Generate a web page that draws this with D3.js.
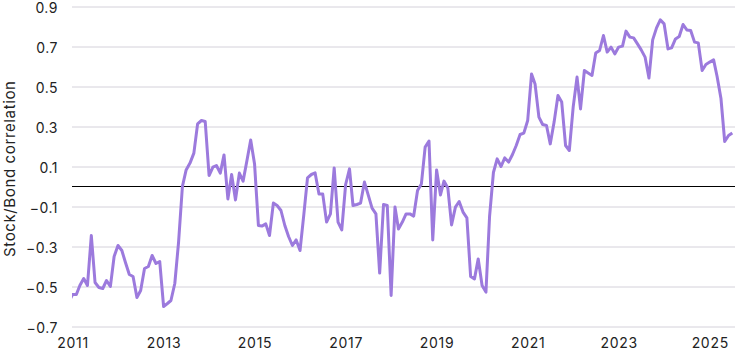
<!DOCTYPE html>
<html><head><meta charset="utf-8">
<script src="https://cdn.jsdelivr.net/npm/d3@7"></script>
<style>body{margin:0;background:#fff}svg{display:block}text{font-family:Inter,"Noto Sans",sans-serif;fill:#222}</style>
</head><body><div id="chart"></div>
<script>
const startMonth = "2010-12";
const values = [
-0.58,
-0.54,-0.54,-0.495,-0.46,-0.495,-0.245,-0.48,-0.505,-0.51,-0.47,-0.50,-0.35,
-0.295,-0.32,-0.38,-0.44,-0.45,-0.555,-0.52,-0.41,-0.40,-0.345,-0.385,-0.375,
-0.60,-0.585,-0.57,-0.485,-0.28,0.0,0.083,0.117,0.167,0.313,0.33,0.325,
0.055,0.097,0.105,0.067,0.158,-0.062,0.06,-0.067,0.067,0.027,0.13,0.233,
0.113,-0.195,-0.198,-0.187,-0.245,-0.083,-0.095,-0.12,-0.195,-0.25,-0.295,-0.267,
-0.32,-0.137,0.043,0.06,0.068,-0.037,-0.037,-0.178,-0.137,0.093,-0.178,-0.217,
0.01,0.088,-0.095,-0.09,-0.083,0.022,-0.042,-0.108,-0.137,-0.433,-0.09,-0.095,
-0.545,-0.103,-0.212,-0.178,-0.137,-0.137,-0.148,-0.02,0.013,0.197,0.227,-0.267,
0.083,-0.042,0.027,-0.007,-0.192,-0.103,-0.075,-0.128,-0.157,-0.45,-0.462,-0.362,
-0.495,-0.528,-0.15,0.07,0.138,0.10,0.143,0.122,0.16,0.205,0.26,0.267,
0.33,0.563,0.513,0.347,0.31,0.305,0.213,0.322,0.455,0.422,0.205,0.18,
0.397,0.547,0.388,0.58,0.567,0.555,0.667,0.68,0.755,0.672,0.697,0.663,
0.697,0.702,0.777,0.747,0.743,0.713,0.683,0.647,0.542,0.733,0.793,0.833,
0.813,0.688,0.693,0.738,0.75,0.81,0.783,0.78,0.722,0.718,0.58,0.61,
0.622,0.633,0.55,0.44,0.225,0.255,0.268
];
const yTicks = [0.9,0.7,0.5,0.3,0.1,-0.1,-0.3,-0.5,-0.7];
const xTickYears = [2011,2013,2015,2017,2019,2021,2023,2025];
const yTitle = "Stock/Bond correlation";

const W=740,H=351, mLeft=72, mRight=735, mTop=6.5, mBottom=326.5;
const parse = d3.timeParse("%Y-%m");
const t0 = parse(startMonth);
const data = values.map((v,i)=>({date:d3.timeMonth.offset(t0,i), value:v}));

const x = d3.scaleTime().domain([new Date(2011,0,1), new Date(2025,6,1)]).range([72.5,732.3]);
const y = d3.scaleLinear().domain([-0.7,0.9]).range([mBottom,mTop]);

const svg = d3.select("#chart").append("svg").attr("width",W).attr("height",H);
svg.append("defs").append("clipPath").attr("id","clip").append("rect")
  .attr("x",mLeft).attr("y",0).attr("width",mRight-mLeft).attr("height",H);

const yAxis = svg.append("g").attr("transform",`translate(${mLeft},0)`)
  .call(d3.axisLeft(y).tickValues(yTicks).tickFormat(d3.format(".1f")).tickSize(-(mRight-mLeft)).tickPadding(14));
yAxis.select(".domain").remove();
yAxis.selectAll(".tick line").attr("stroke","#d4d1da").attr("stroke-width",1);
yAxis.selectAll(".tick text").attr("font-size",14).attr("dy","0.42em").attr("letter-spacing","0.5px").attr("fill","#222").style("font-family","Inter, sans-serif");

svg.append("line").attr("x1",mLeft).attr("x2",mRight).attr("y1",y(0)).attr("y2",y(0))
  .attr("stroke","#000").attr("stroke-width",1);

const xAxis = svg.append("g").attr("transform",`translate(0,${mBottom})`)
  .call(d3.axisBottom(x).tickValues(xTickYears.map(yr=>new Date(yr,0,1))).tickFormat(d3.timeFormat("%Y")).tickSize(0).tickPadding(12));
xAxis.select(".domain").remove();
xAxis.selectAll(".tick text").attr("font-size",14).attr("letter-spacing","0.7px").attr("fill","#222").style("font-family","Inter, sans-serif");

svg.append("path").datum(data).attr("clip-path","url(#clip)")
  .attr("fill","none").attr("stroke","#9c7add").attr("stroke-width",3).attr("stroke-linejoin","round")
  .attr("d", d3.line().x(d=>x(d.date)).y(d=>y(d.value)));

svg.append("text").attr("transform","translate(15,169) rotate(-90)").attr("text-anchor","middle")
  .attr("font-size",15).attr("textLength",176).attr("lengthAdjust","spacing").attr("fill","#222").text(yTitle);
</script></body></html>
